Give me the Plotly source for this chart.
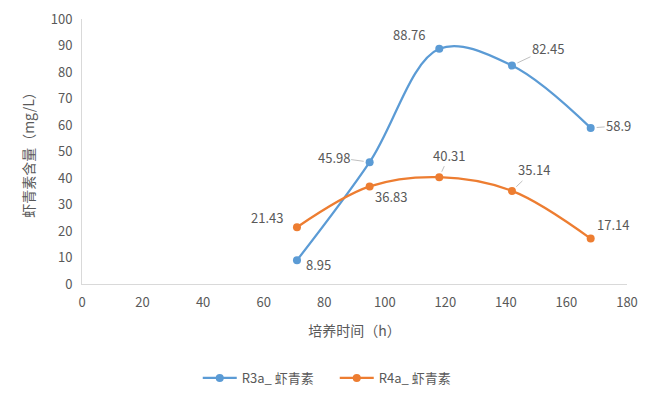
import plotly.graph_objects as go

hours = [71, 95, 118, 142, 168]
r3a = [8.95, 45.98, 88.76, 82.45, 58.9]
r4a = [21.43, 36.83, 40.31, 35.14, 17.14]
x_ticks = list(range(0, 181, 20))
y_ticks = list(range(0, 101, 10))

blue = "#5B9BD5"
orange = "#ED7D31"
gray = "#595959"
font_family = "Noto Sans CJK SC, Noto Sans, sans-serif"

fig = go.Figure()
fig.add_trace(go.Scatter(x=hours, y=r3a, mode="lines+markers", name="R3a_ 虾青素",
                         line=dict(color=blue, width=2.25, shape="spline", smoothing=1.0),
                         marker=dict(color=blue, size=8)))
fig.add_trace(go.Scatter(x=hours, y=r4a, mode="lines+markers", name="R4a_ 虾青素",
                         line=dict(color=orange, width=2.25, shape="spline", smoothing=1.0),
                         marker=dict(color=orange, size=8)))

# label offsets (pixels) and whether a leader line is drawn
r3_off = [(22, 4, False), (-36, -5, True), (-30, -14, False), (36, -17, True), (28, -2, True)]
r4_off = [(-30, -10, False), (21, 10, False), (10, -22, True), (22, -21, True), (22, -14, False)]

for xs, ys, offs in ((hours, r3a, r3_off), (hours, r4a, r4_off)):
    for xv, yv, (dx, dy, lead) in zip(xs, ys, offs):
        fig.add_annotation(x=xv, y=yv, text=str(yv), ax=dx, ay=dy, axref="pixel", ayref="pixel",
                           showarrow=True, arrowhead=0, arrowwidth=1,
                           arrowcolor="#BFBFBF" if lead else "rgba(0,0,0,0)",
                           standoff=6, startstandoff=0,
                           font=dict(size=13, color=gray, family=font_family))

fig.update_layout(
    width=650, height=396,
    margin=dict(l=82, r=23, t=19, b=112),
    paper_bgcolor="white", plot_bgcolor="white",
    font=dict(family=font_family, color=gray, size=13),
    showlegend=True,
    legend=dict(orientation="h", x=0.515, xanchor="center", xref="container",
                y=18 / 396, yanchor="middle", yref="container",
                entrywidth=88, entrywidthmode="pixels", itemwidth=34,
                font=dict(size=13, color=gray, family=font_family)),
    xaxis=dict(range=[0, 180], tickvals=x_ticks, showgrid=False, zeroline=False,
               showline=True, linecolor="#D9D9D9", linewidth=1, automargin=False,
               ticks="outside", ticklen=6, tickcolor="rgba(0,0,0,0)",
               tickfont=dict(size=13, color=gray),
               title=dict(text="培养时间（h）", font=dict(size=14, color=gray), standoff=16)),
    yaxis=dict(range=[0, 100], tickvals=y_ticks, showgrid=False, zeroline=False,
               showline=True, linecolor="#D9D9D9", linewidth=1, automargin=False,
               ticks="outside", ticklen=6, tickcolor="rgba(0,0,0,0)",
               tickfont=dict(size=13, color=gray),
               title=dict(text="虾青素含量（mg/L）", font=dict(size=14, color=gray), standoff=12)),
)

fig.write_html("out.html", config={"displayModeBar": False},
               post_script="document.body.style.margin='0px';")
